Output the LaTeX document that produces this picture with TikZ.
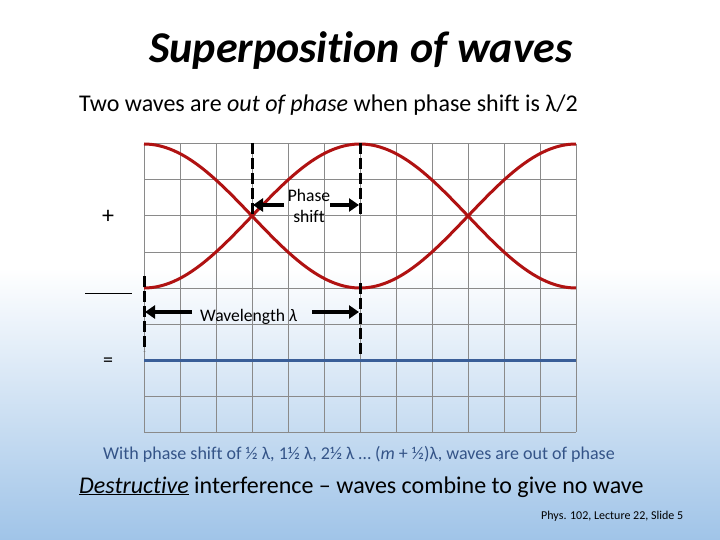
\documentclass[tikz,border=0pt]{standalone}
\usepackage{fontspec}
\setmainfont{Carlito}[Ligatures=NoCommon]
\usetikzlibrary{arrows.meta}
\definecolor{bgblue}{RGB}{160,196,232}
\definecolor{wavered}{RGB}{176,18,18}
\definecolor{sumblue}{RGB}{58,94,152}
\definecolor{txtblue}{RGB}{52,84,136}
\definecolor{gridgray}{RGB}{138,138,138}
\tikzset{
  wave/.style={wavered, line width=3pt},
  gridline/.style={gridgray, line width=1pt},
  dashmark/.style={black, line width=3pt, dash pattern=on 11pt off 4pt},
  arr/.style={black, line width=4pt, -{Triangle[length=10pt,width=13pt]}},
  lbl/.style={inner sep=0pt, font=\fontsize{17.6}{20.5}\selectfont},
}
\begin{document}
\begin{tikzpicture}[x=1pt,y=-1pt]
\useasboundingbox (0,0) rectangle (720,540);
\fill[white] (0,0) rectangle (720,270);
\shade[top color=white, bottom color=bgblue] (0,268) rectangle (720,540);
% grid
\foreach \i in {0,...,12} \draw[gridline] ({144+36*\i},144) -- ({144+36*\i},432);
\foreach \j in {0,...,8} \draw[gridline] (144,{144+36*\j}) -- (576,{144+36*\j});
% waves
\draw[wave] plot[domain=144:576, samples=120, smooth] (\x, {216-72*cos((\x-144)*0.833333)});
\draw[wave] plot[domain=144:576, samples=120, smooth] (\x, {216+72*cos((\x-144)*0.833333)});
% sum
\draw[sumblue, line width=3pt] (144,360) -- (576,360);
% dashed markers
\coordinate (d1a) at (252,143); \coordinate (d1b) at (252,217);
\coordinate (d2a) at (360,143); \coordinate (d2b) at (360,217);
\coordinate (d3a) at (144,276); \coordinate (d3b) at (144,351);
\coordinate (d4a) at (360,283); \coordinate (d4b) at (360,356);
\draw[dashmark] (d1a) -- (d1b);
\draw[dashmark] (d2a) -- (d2b);
\draw[dashmark] (d3a) -- (d3b);
\draw[dashmark] (d4a) -- (d4b);
% phase shift
\node[lbl, align=center] (ps) at (309,206) {Phase\\shift};
\coordinate (psl) at (253,205); \coordinate (psr) at (359,205);
\draw[arr] (284,205) -- (psl);
\draw[arr] (330,205) -- (psr);
% wavelength
\node[lbl, anchor=base west] (wl) at (200,321) {Wavelength \textit{λ}};
\coordinate (wll) at (145,312); \coordinate (wlr) at (359,312);
\draw[arr] (192,312) -- (wll);
\draw[arr] (312,312) -- (wlr);
% left marks
\node[lbl, font=\fontsize{24}{28}\selectfont] (plus) at (108,217) {+};
\coordinate (ml) at (85,293); \coordinate (mr) at (132,293);
\draw[black, line width=1pt] (ml) -- (mr);
\node[lbl, font=\fontsize{20}{24}\selectfont] (eq) at (108,362) {=};
% texts
\node[inner sep=0pt, anchor=base, font=\fontsize{44}{52}\selectfont\bfseries\itshape] (title) at (361,63) {Superposition of waves};
\node[inner sep=0pt, anchor=base west, font=\fontsize{24}{28}\selectfont] (sub) at (79,112) {Two waves are \textit{out of phase} when phase shift is λ/2};
\node[inner sep=0pt, anchor=base west, text=txtblue, font=\fontsize{18}{22}\selectfont] (note) at (103,459) {With phase shift of ½ λ, 1½ λ, 2½ λ … (\textit{m} + ½)λ, waves are out of phase};
\node[inner sep=0pt, anchor=base west, font=\fontsize{24}{28}\selectfont] (dest) at (79,493) {\underline{\textit{Destructive}} interference – waves combine to give no wave};
\node[inner sep=0pt, anchor=base west, font=\fontsize{12}{14}\selectfont] (foot) at (541,519) {Phys. 102, Lecture 22, Slide 5};
\end{tikzpicture}
\end{document}
